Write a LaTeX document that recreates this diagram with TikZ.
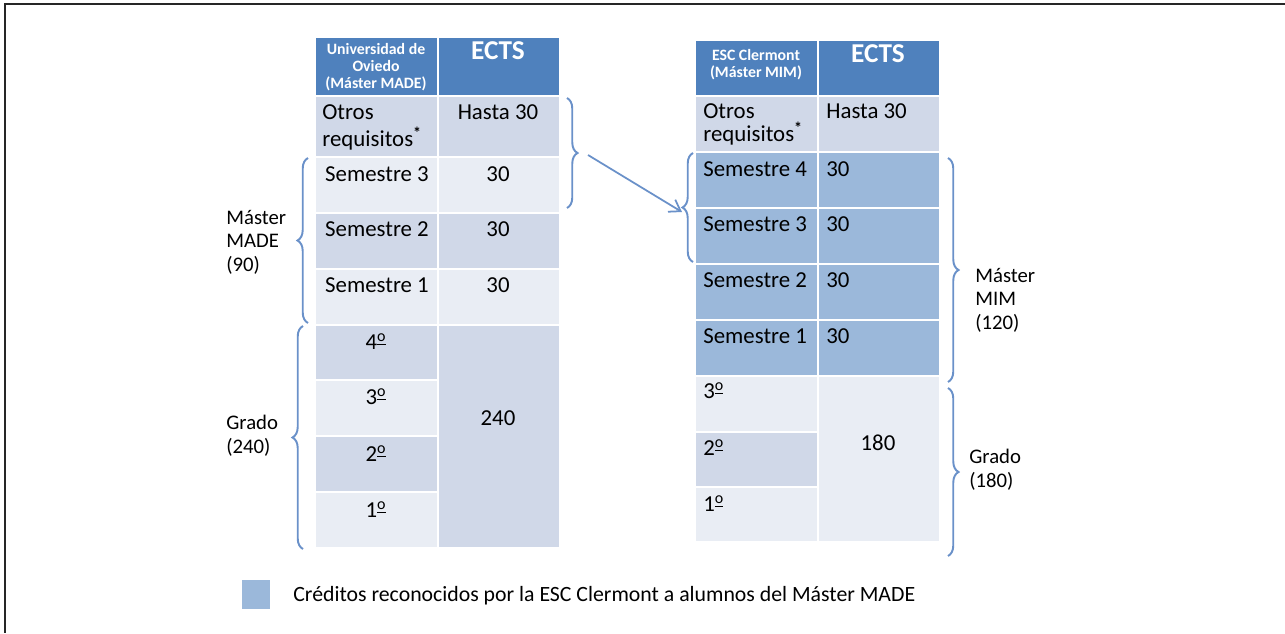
\documentclass[tikz,border=0pt]{standalone}
\usepackage{fontspec}
\setmainfont{Carlito}
\newcommand{\ordm}{\textsuperscript{\underline{o}}}
\usetikzlibrary{arrows.meta,decorations.pathreplacing,positioning,calc}
\definecolor{hdr}{HTML}{4F81BD}
\definecolor{rowdk}{HTML}{D0D8E8}
\definecolor{rowlt}{HTML}{E9EDF4}
\definecolor{reco}{HTML}{9BB8DA}
\definecolor{brc}{HTML}{6A91C9}
\tikzset{
  cell/.style  = { draw=white, line width=1.2pt },
  hd/.style    = { cell, fill=hdr },
  dk/.style    = { cell, fill=rowdk },
  lt/.style    = { cell, fill=rowlt },
  rc/.style    = { cell, fill=reco },
  txt/.style   = { inner sep=0pt, yshift=-1.2pt, font=\fontsize{13}{15.5}\selectfont },
  hdtxt/.style = { inner sep=0pt, text=white, align=center,
    font=\bfseries\fontsize{9}{9.8}\selectfont },
  ects/.style  = { inner sep=0pt, text=white, font=\bfseries\fontsize{15.5}{18}\selectfont },
  lbl/.style   = { inner sep=0pt, align=left, anchor=west,
    font=\fontsize{11.8}{13.4}\selectfont },
  brace/.style = { draw=brc, line width=1.1pt, decorate,
    decoration={brace,amplitude=6pt} },
  conn/.style  = { draw=brc, line width=1pt, -{Straight Barb[length=6pt,width=8pt]} },
  frame/.style = { draw=black!85, line width=1.2pt }
}

\begin{document}
\begin{tikzpicture}[x=0.02cm,y=-0.02cm]
    \useasboundingbox (0,0) rectangle (1285,633);
    \draw[frame] (1285,4) -- (5,4) -- (5,633);

    % tabla Universidad de Oviedo
    \draw[hd] (315,37) rectangle (438,96);
    \draw[hd] (438,37) rectangle (560,96);
    \draw[dk] (315,96) rectangle (438,157);
    \draw[dk] (438,96) rectangle (560,157);
    \draw[lt] (315,157) rectangle (438,213);
    \draw[lt] (438,157) rectangle (560,213);
    \draw[dk] (315,213) rectangle (438,269);
    \draw[dk] (438,213) rectangle (560,269);
    \draw[lt] (315,269) rectangle (438,325);
    \draw[lt] (438,269) rectangle (560,325);
    \draw[dk] (315,325) rectangle (438,380);
    \draw[lt] (315,380) rectangle (438,436);
    \draw[dk] (315,436) rectangle (438,492);
    \draw[lt] (315,492) rectangle (438,548);
    \draw[dk] (438,325) rectangle (560,548);

    \node[hdtxt] (uniH) at (376,67) {Universidad de\\Oviedo\\(Máster MADE)};
    \node[ects, anchor=mid] (ectsL) at (498,55) {ECTS};
    \node[txt, anchor=mid west] (otrosL) at (322,113) {Otros};
    \node[txt, anchor=mid west] (reqL) at (322,140) {requisitos\textsuperscript{\textbf{*}}};
    \node[txt, anchor=mid] (hastaL) at (498,113) {Hasta 30};
    \node[txt, anchor=mid] (s3L) at (377,175) {Semestre 3};
    \node[txt, anchor=mid] (c3L) at (498,175) {30};
    \node[txt, anchor=mid] (s2L) at (377,230) {Semestre 2};
    \node[txt, anchor=mid] (c2L) at (498,230) {30};
    \node[txt, anchor=mid] (s1L) at (377,286) {Semestre 1};
    \node[txt, anchor=mid] (c1L) at (498,286) {30};
    \node[txt, anchor=mid] (g4L) at (376,343) {4\ordm};
    \node[txt, anchor=mid] (g3L) at (376,398) {3\ordm};
    \node[txt, anchor=mid] (g2L) at (376,455) {2\ordm};
    \node[txt, anchor=mid] (g1L) at (376,511) {1\ordm};
    \node[txt, anchor=mid] (gtL) at (498,419) {240};

    % tabla ESC Clermont
    \draw[hd] (695,40) rectangle (818,96);
    \draw[hd] (818,40) rectangle (940,96);
    \draw[dk] (695,96) rectangle (818,152);
    \draw[dk] (818,96) rectangle (940,152);
    \draw[rc] (695,152) rectangle (818,208);
    \draw[rc] (818,152) rectangle (940,208);
    \draw[rc] (695,208) rectangle (818,264);
    \draw[rc] (818,208) rectangle (940,264);
    \draw[rc] (695,264) rectangle (818,320);
    \draw[rc] (818,264) rectangle (940,320);
    \draw[rc] (695,320) rectangle (818,376);
    \draw[rc] (818,320) rectangle (940,376);
    \draw[lt] (695,376) rectangle (818,432);
    \draw[dk] (695,432) rectangle (818,487);
    \draw[lt] (695,487) rectangle (818,542);
    \draw[lt] (818,376) rectangle (940,542);

    \node[hdtxt] (escH) at (756,65) {ESC Clermont\\(Máster MIM)};
    \node[ects, anchor=mid] (ectsR) at (878,58) {ECTS};
    \node[txt, anchor=mid west] (otrosR) at (703,112) {Otros};
    \node[txt, anchor=mid west] (reqR) at (703,135) {requisitos\textsuperscript{\textbf{*}}};
    \node[txt, anchor=mid west] (hastaR) at (826,112) {Hasta 30};
    \node[txt, anchor=mid west] (s4R) at (703,170) {Semestre 4};
    \node[txt, anchor=mid west] (c4R) at (826,170) {30};
    \node[txt, anchor=mid west] (s3R) at (703,225) {Semestre 3};
    \node[txt, anchor=mid west] (c3R) at (826,225) {30};
    \node[txt, anchor=mid west] (s2R) at (703,281) {Semestre 2};
    \node[txt, anchor=mid west] (c2R) at (826,281) {30};
    \node[txt, anchor=mid west] (s1R) at (703,337) {Semestre 1};
    \node[txt, anchor=mid west] (c1R) at (826,337) {30};
    \node[txt, anchor=mid west] (g3R) at (703,392) {3\ordm};
    \node[txt, anchor=mid west] (g2R) at (703,449) {2\ordm};
    \node[txt, anchor=mid west] (g1R) at (703,505) {1\ordm};
    \node[txt, anchor=mid] (gtR) at (878,444) {180};

    % llaves
    \draw[brace] (308,323) -- (308,158);
    \draw[brace] (303,549) -- (303,326);
    \draw[brace] (567,98) -- (567,208);
    \draw[brace] (693,262) -- (693,153);
    \draw[brace] (948,158) -- (948,382);
    \draw[brace] (948,388) -- (948,556);

    \node[lbl] (madeL) at (226,242) {Máster\\MADE\\(90)};
    \node[lbl] (gradoL) at (226,436) {Grado\\(240)};
    \node[lbl] (mimR) at (975,300) {Máster\\MIM\\(120)};
    \node[lbl] (gradoR) at (969,470) {Grado\\(180)};

    \coordinate (otrosTip) at (588,155);
    \coordinate (semTip) at (682,212);
    \draw[conn] (otrosTip) -- (semTip);

    % leyenda
    \draw[rc, draw=none] (242,580) rectangle (270,609);
    \node[txt, anchor=mid west, font=\fontsize{12.4}{14}\selectfont] (leg) at (293,595)
      {Créditos reconocidos por la ESC Clermont a alumnos del Máster MADE};
\end{tikzpicture}
\end{document}
